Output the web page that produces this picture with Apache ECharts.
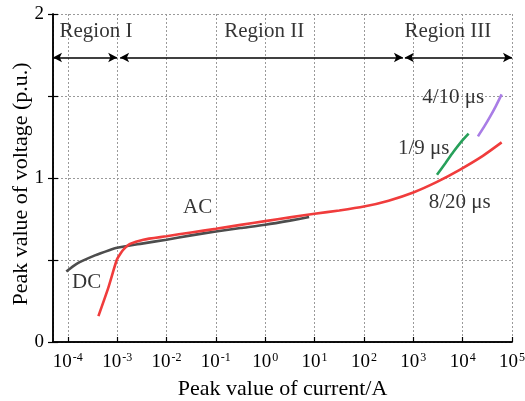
<!DOCTYPE html>
<html>
<head>
<meta charset="utf-8">
<script src="https://cdn.jsdelivr.net/npm/echarts@6/dist/echarts.min.js"></script>
<style>
html,body{margin:0;padding:0;background:#fff;}
#chart{width:525px;height:401px;}
</style>
</head>
<body>
<div id="chart"></div>
<script>
// ---- data (current in A, voltage in p.u.) ----
var dcCurrent = [9.33e-5, 1.51e-4, 3.55e-4, 6.9e-4, 1e-3, 3.16e-3, 1e-2, 3.16e-2, 0.1, 0.316, 1, 3.16, 7.76];
var dcVoltage = [0.43, 0.477, 0.528, 0.56, 0.575, 0.60, 0.624, 0.65, 0.674, 0.695, 0.715, 0.74, 0.762];

var i820Current = [4.17e-4, 6.6e-4, 9.8e-4, 1.17e-3, 1.35e-3, 1.82e-3, 3.39e-3, 1e-2, 3.16e-2, 0.1, 0.316, 1, 3.16, 10, 31.6, 100, 316, 1000, 2950, 8710, 25700, 61700];
var i820Voltage = [0.158, 0.33, 0.50, 0.54, 0.565, 0.598, 0.624, 0.645, 0.668, 0.69, 0.714, 0.737, 0.76, 0.782, 0.802, 0.826, 0.862, 0.912, 0.975, 1.05, 1.135, 1.217];

var i19Current = [3020, 4470, 6460, 9330, 13200];
var i19Voltage = [1.02, 1.09, 1.158, 1.22, 1.27];

var i410Current = [20400, 26900, 35500, 46800, 61700];
var i410Voltage = [1.254, 1.31, 1.371, 1.437, 1.51];

var xMin = Math.pow(10, -4.3);
var xMax = 1e5;
var yTicks = ['0', '1', '2'];

// annotation texts [current, voltage, text]
var curveLabels = [
  [Math.pow(10, -3.62), 0.36, 'DC'],
  [Math.pow(10, -1.37), 0.82, 'AC'],
  [Math.pow(10, 3.94), 0.85, '8/20 μs'],
  [Math.pow(10, 3.21), 1.183, '1/9 μs'],
  [Math.pow(10, 3.81), 1.49, '4/10 μs']
];
var regionLabels = [
  [Math.pow(10, -3.43), 1.894, 'Region I'],
  [Math.pow(10, -0.02), 1.894, 'Region II'],
  [Math.pow(10, 3.70), 1.894, 'Region III']
];
// region spans [start current, end current]
var regionY = 1.735;
var regionSpans = [
  [xMin, 1e-3],
  [Math.pow(10, -2.94), Math.pow(10, 2.79)],
  [Math.pow(10, 2.83), 1e5]
];

function zip(xs, ys) { return xs.map(function (x, i) { return [x, ys[i]]; }); }

var FONT = "'Liberation Serif', 'Times New Roman', serif";

var chart = echarts.init(document.getElementById('chart'), null, {renderer: 'canvas'});

function lineSeries(name, xs, ys, color) {
  return {
    name: name, type: 'line', data: zip(xs, ys), smooth: 0.2,
    showSymbol: false, symbol: 'none',
    lineStyle: {color: color, width: 2.6},
    itemStyle: {color: color},
    emphasis: {disabled: true}, z: 5
  };
}

var option = {
  animation: false,
  backgroundColor: '#fff',
  grid: {left: 53, right: 13, top: 14, bottom: 59, containLabel: false, outerBoundsMode: 'none'},
  xAxis: [{
    type: 'log', logBase: 10, min: xMin, max: xMax, splitNumber: 10,
    name: 'Peak value of current/A', nameLocation: 'middle', nameGap: 36,
    nameMoveOverlap: false,
    nameTextStyle: {fontFamily: FONT, fontSize: 22, color: '#000'},
    axisLine: {show: true, onZero: false, lineStyle: {color: '#000', width: 1.5}},
    axisTick: {show: true, inside: true, length: 5, lineStyle: {color: '#000', width: 1.2}},
    axisLabel: {
      showMinLabel: false, margin: 10,
      formatter: function (v) {
        var e = Math.round(Math.log10(v));
        return '{b|10}{s|' + e + '}';
      },
      rich: {
        b: {fontFamily: FONT, fontSize: 19, color: '#000', lineHeight: 20},
        s: {fontFamily: FONT, fontSize: 12, color: '#000', verticalAlign: 'top', lineHeight: 12, padding: [0, 0, 0, 1]}
      }
    },
    splitLine: {show: true, lineStyle: {color: '#9a9a9a', width: 1, type: [2, 2]}}
  }, {
    type: 'value', position: 'top', min: 0, max: 1,
    axisLine: {show: true, lineStyle: {color: '#000', width: 1.5}},
    axisTick: {show: false}, axisLabel: {show: false}, splitLine: {show: false}
  }],
  yAxis: [{
    type: 'value', min: 0, max: 2, interval: 0.5,
    name: 'Peak value of voltage (p.u.)', nameLocation: 'middle', nameGap: 21,
    nameMoveOverlap: false,
    nameTextStyle: {fontFamily: FONT, fontSize: 22, color: '#000', padding: [0, 12, 0, 0]},
    axisLine: {show: true, onZero: false, lineStyle: {color: '#000', width: 1.5}},
    axisTick: {show: true, inside: true, length: 5, lineStyle: {color: '#000', width: 1.2}},
    axisLabel: {
      fontFamily: FONT, fontSize: 19, color: '#000', margin: 9,
      formatter: function (v) {
        var idx = yTicks.indexOf(String(v));
        return idx >= 0 ? yTicks[idx] : '';
      }
    },
    splitLine: {show: true, lineStyle: {color: '#9a9a9a', width: 1, type: [2, 2]}}
  }, {
    type: 'value', position: 'right', min: 0, max: 2, interval: 0.5,
    axisLine: {show: true, lineStyle: {color: '#000', width: 1.5}},
    axisTick: {show: true, inside: true, length: 5, lineStyle: {color: '#000', width: 1.2}},
    axisLabel: {show: false}, splitLine: {show: false}
  }],
  series: [
    lineSeries('DC', dcCurrent, dcVoltage, '#4d4d4d'),
    lineSeries('8/20', i820Current, i820Voltage, '#f03c3c'),
    lineSeries('1/9', i19Current, i19Voltage, '#27a05a'),
    lineSeries('4/10', i410Current, i410Voltage, '#a97de6'),
    {
      name: 'labels', type: 'scatter', symbolSize: 1,
      itemStyle: {color: 'transparent'},
      data: curveLabels.concat(regionLabels).map(function (d) { return {value: [d[0], d[1]], name: d[2]}; }),
      label: {show: true, position: 'inside', formatter: '{b}', fontFamily: FONT, fontSize: 21, color: '#000'},
      emphasis: {disabled: true}, silent: true, z: 6,
      markLine: {
        silent: true, symbol: ['arrow', 'arrow'], symbolSize: [7, 9],
        label: {show: false},
        lineStyle: {color: '#000', width: 1.5, type: 'solid'},
        emphasis: {disabled: true},
        data: regionSpans.map(function (s) {
          return [{coord: [s[0], regionY]}, {coord: [s[1], regionY]}];
        })
      }
    }
  ]
};
chart.setOption(option);
</script>
</body>
</html>
